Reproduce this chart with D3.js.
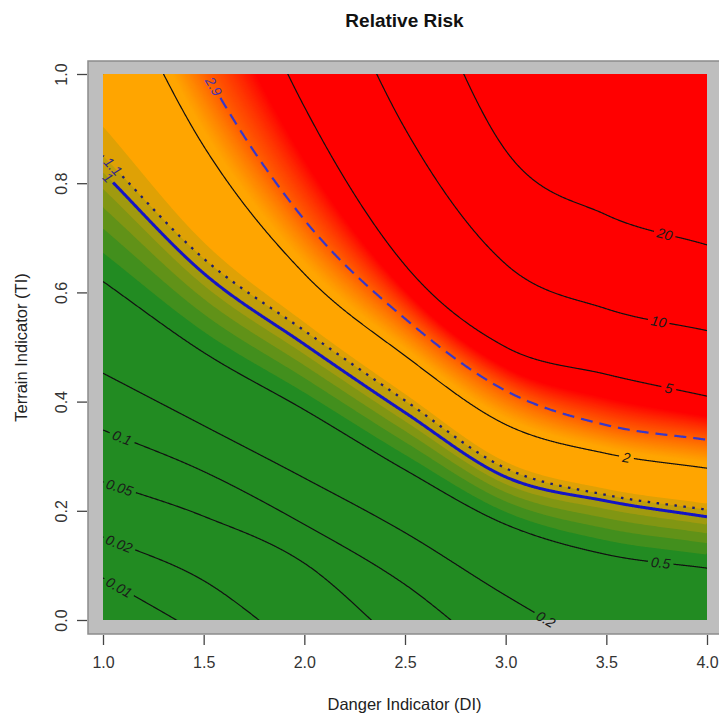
<!DOCTYPE html>
<html>
<head>
<meta charset="utf-8">
<script src="https://cdn.jsdelivr.net/npm/d3@7"></script>
<style>
  body { margin: 0; background: #fff; }
  text { font-family: "Liberation Sans", Arial, Helvetica, sans-serif; }
</style>
</head>
<body>
<div id="chart"></div>
<script>
// relative risk levels drawn as contour lines
const levels = [0.01, 0.02, 0.05, 0.1, 0.2, 0.5, 1, 1.1, 2, 2.9, 5, 10, 20];

const diCols = [1.0, 1.5, 2.0, 2.5, 3.0, 3.5, 4.0];

// TI where each level crosses the DI columns (values outside 0..1 run off the plot)
const ti0_01 = [0.077, -0.03, -0.15, -0.28, -0.42, -0.56, -0.70];
const ti0_02 = [0.152, 0.072, -0.065, -0.20, -0.34, -0.48, -0.62];
const ti0_05 = [0.253, 0.19, 0.104, -0.055, -0.20, -0.34, -0.48];
const ti0_1  = [0.348, 0.272, 0.175, 0.065, -0.08, -0.20, -0.32];
const ti0_2  = [0.452, 0.356, 0.26, 0.16, 0.045, -0.06, -0.15];
const ti0_5  = [0.62, 0.49, 0.385, 0.275, 0.175, 0.12, 0.095];
const ti1    = [0.82, 0.635, 0.505, 0.38, 0.262, 0.218, 0.189];
const ti1_1  = [0.85, 0.662, 0.53, 0.402, 0.278, 0.229, 0.202];
const ti2    = [1.22, 0.868, 0.634, 0.484, 0.358, 0.305, 0.278];
const ti2_9  = [1.40, 1.01, 0.733, 0.552, 0.42, 0.357, 0.33];
const ti5    = [1.80, 1.35, 0.94, 0.65, 0.50, 0.45, 0.41];
const ti10   = [2.20, 1.75, 1.30, 0.90, 0.652, 0.57, 0.53];
const ti20   = [2.60, 2.15, 1.70, 1.25, 0.86, 0.742, 0.687];
const crossings = [ti0_01, ti0_02, ti0_05, ti0_1, ti0_2, ti0_5, ti1, ti1_1, ti2, ti2_9, ti5, ti10, ti20];

// DI where the label of each contour sits
const labelDI = [1.08, 1.08, 1.082, 1.095, 3.2, 3.77, 1.025, 1.05, 3.6, 1.55, 3.81, 3.76, 3.79];

// colour ramp of the filled field
const riskStops = [0.55, 1.25, 2.15, 3.9];
const riskColours = ["#228B22", "#FFA500", "#FFA500", "#FF0000"];

const xTicks = [1.0, 1.5, 2.0, 2.5, 3.0, 3.5, 4.0];
const yTicks = [0.0, 0.2, 0.4, 0.6, 0.8, 1.0];

const W = 719, H = 713;
const frame = {left: 88, top: 61, right: 721, bottom: 634};
const area = {left: 103, top: 74, right: 707, bottom: 620};

const x = d3.scaleLinear().domain([1, 4]).range([area.left, area.right]);
const y = d3.scaleLinear().domain([0, 1]).range([area.bottom, area.top]);
const colour = d3.scaleLinear().domain(riskStops).range(riskColours).clamp(true);

// catmull-rom through the read crossings
function crossAt(arr, di) {
  const u = (di - diCols[0]) / (diCols[1] - diCols[0]);
  const i = Math.min(Math.max(Math.floor(u), 0), arr.length - 2);
  const t = u - i;
  const p1 = arr[i], p2 = arr[i + 1];
  const p0 = i > 0 ? arr[i - 1] : 2 * p1 - p2;
  const p3 = i + 2 < arr.length ? arr[i + 2] : 2 * p2 - p1;
  const t2 = t * t, t3 = t2 * t;
  return 0.5 * (2 * p1 + (p2 - p0) * t + (2 * p0 - 5 * p1 + 4 * p2 - p3) * t2 + (3 * p1 - p0 - 3 * p2 + p3) * t3);
}

function riskAt(c, ti) {
  const n = c.length;
  if (ti <= c[0]) return levels[0];
  if (ti >= c[n - 1]) return levels[n - 1];
  let k = 0;
  while (k < n - 2 && ti >= c[k + 1]) k++;
  const f = (ti - c[k]) / (c[k + 1] - c[k]);
  return Math.exp(Math.log(levels[k]) + f * (Math.log(levels[k + 1]) - Math.log(levels[k])));
}

const svg = d3.select("#chart").append("svg")
  .attr("width", W)
  .attr("height", H);

svg.append("defs").append("clipPath")
  .attr("id", "clipArea")
  .append("rect")
  .attr("x", area.left).attr("y", area.top)
  .attr("width", area.right - area.left)
  .attr("height", area.bottom - area.top);

// grey plot region
svg.append("rect")
  .attr("x", frame.left).attr("y", frame.top)
  .attr("width", frame.right - frame.left)
  .attr("height", frame.bottom - frame.top)
  .attr("fill", "#bebebe")
  .attr("stroke", "#8c8c8c")
  .attr("stroke-width", 1.5);

// sample the field
const step = 2;
const n = Math.round((area.right - area.left) / step);
const m = Math.round((area.bottom - area.top) / step);
const values = new Float64Array(n * m);
for (let i = 0; i < n; i++) {
  const di = x.invert(area.left + (i + 0.5) * step);
  const c = crossings.map(a => crossAt(a, di));
  for (let k = 1; k < c.length; k++) if (c[k] < c[k - 1] + 1e-4) c[k] = c[k - 1] + 1e-4;
  for (let j = 0; j < m; j++) {
    values[i + j * n] = riskAt(c, y.invert(area.top + (j + 0.5) * step));
  }
}

// filled bands: coarse steps green->orange, fine steps orange->red
const greenBands = d3.range(6, 13).map(d => d / 10);
const redBands = d3.range(107, 196).map(d => d / 50);
const bands = greenBands.concat(redBands);
const bandColour = t => t < 2 ? colour(t + 0.05) : colour(t + 0.01);

const fillG = svg.append("g")
  .attr("transform", `translate(${area.left},${area.top}) scale(${step})`);

fillG.append("rect")
  .attr("width", n).attr("height", m)
  .attr("fill", colour(0));

fillG.selectAll("path")
  .data(d3.contours().size([n, m]).thresholds(bands)(values))
  .join("path")
  .attr("d", d3.geoPath())
  .attr("fill", d => bandColour(d.value));

// contour lines with labels
const lineStyle = {
  "1":   {stroke: "#1414c4", width: 3, dash: null, label: "#33288a"},
  "1.1": {stroke: "#1c1c70", width: 2.3, dash: "2.5,6.5", label: "#33288a"},
  "2.9": {stroke: "#3838c8", width: 2.2, dash: "12,7", label: "#4a34a8"}
};
const plain = {stroke: "#111", width: 1.2, dash: null, label: "#1a1a1a"};

const lineG = svg.append("g").attr("clip-path", "url(#clipArea)");
const labelG = svg.append("g");
const line = d3.line().defined(p => !p.gap);

levels.forEach((lv, k) => {
  const st = lineStyle[String(lv)] || plain;
  const arr = crossings[k];
  const ld = labelDI[k];
  const lp = [x(ld), y(crossAt(arr, ld))];
  const a = [x(ld - 0.01), y(crossAt(arr, ld - 0.01))];
  const b = [x(ld + 0.01), y(crossAt(arr, ld + 0.01))];
  const ang = Math.atan2(b[1] - a[1], b[0] - a[0]) * 180 / Math.PI;

  const txt = labelG.append("text")
    .attr("transform", `translate(${lp[0]},${lp[1]}) rotate(${ang})`)
    .attr("text-anchor", "middle")
    .attr("dy", "0.36em")
    .attr("font-size", 14)
    .attr("font-style", "italic")
    .attr("fill", st.label)
    .text(String(lv));
  const half = txt.node().getComputedTextLength() / 2 + 3;

  const pts = d3.range(0, 901).map(i => {
    const di = 1 + 3 * i / 900;
    const p = [x(di), y(crossAt(arr, di))];
    p.gap = Math.hypot(p[0] - lp[0], p[1] - lp[1]) < half;
    return p;
  });

  lineG.append("path")
    .attr("d", line(pts))
    .attr("fill", "none")
    .attr("stroke", st.stroke)
    .attr("stroke-width", st.width)
    .attr("stroke-dasharray", st.dash);
});

// axes
const xAxis = svg.append("g")
  .attr("transform", `translate(0,${frame.bottom + 1})`)
  .call(d3.axisBottom(x).tickValues(xTicks).tickFormat(d3.format(".1f")).tickSize(10).tickPadding(12));
xAxis.select(".domain").remove();

const yAxis = svg.append("g")
  .attr("transform", `translate(${frame.left - 1},0)`)
  .call(d3.axisLeft(y).tickValues(yTicks).tickFormat(d3.format(".1f")).tickSize(10));
yAxis.select(".domain").remove();
yAxis.selectAll("text")
  .attr("transform", "rotate(-90)")
  .attr("x", 0)
  .attr("y", -20)
  .attr("dy", 0)
  .attr("text-anchor", "middle");

svg.selectAll(".tick line").attr("stroke", "#444").attr("stroke-width", 1.3);
svg.selectAll(".tick text")
  .attr("font-size", 16)
  .attr("font-family", "Liberation Sans, Arial, sans-serif")
  .attr("fill", "#333");

// titles
svg.append("text")
  .attr("x", (frame.left + frame.right) / 2)
  .attr("y", 27)
  .attr("text-anchor", "middle")
  .attr("font-size", 19)
  .attr("font-weight", "bold")
  .attr("fill", "#111")
  .text("Relative Risk");

svg.append("text")
  .attr("x", (frame.left + frame.right) / 2)
  .attr("y", 710)
  .attr("text-anchor", "middle")
  .attr("font-size", 16.5)
  .attr("fill", "#222")
  .text("Danger Indicator (DI)");

svg.append("text")
  .attr("transform", `translate(27,${(frame.top + frame.bottom) / 2}) rotate(-90)`)
  .attr("text-anchor", "middle")
  .attr("font-size", 16.5)
  .attr("fill", "#222")
  .text("Terrain Indicator (TI)");
</script>
</body>
</html>
